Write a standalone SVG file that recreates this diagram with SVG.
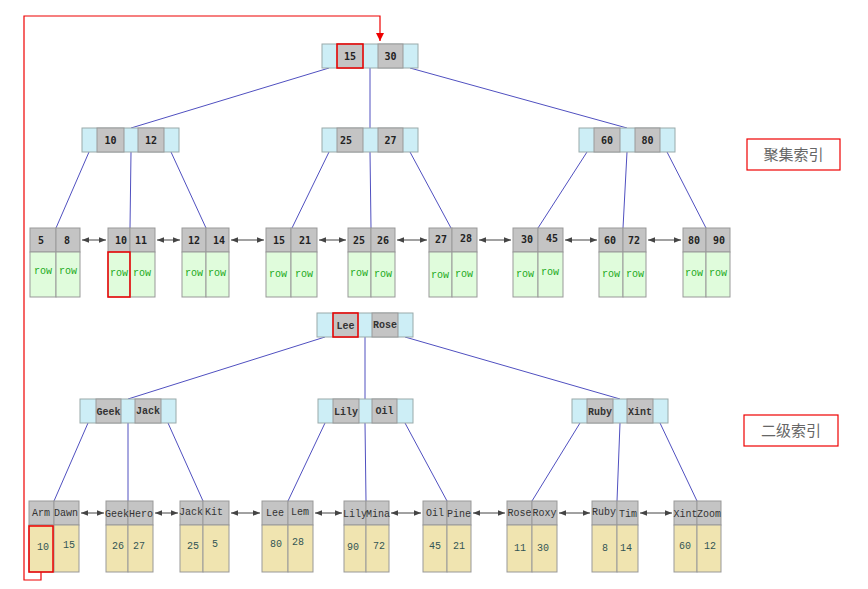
<svg xmlns="http://www.w3.org/2000/svg" width="868" height="589" viewBox="0 0 868 589">
<defs>
<marker id="ah" viewBox="0 0 10 10" refX="10" refY="5" markerWidth="7" markerHeight="7" orient="auto-start-reverse" markerUnits="userSpaceOnUse"><path d="M0,1 L10,5 L0,9 z" fill="#444"/></marker>
<marker id="rh" viewBox="0 0 10 10" refX="10" refY="5" markerWidth="8" markerHeight="8" orient="auto" markerUnits="userSpaceOnUse"><path d="M0,0 L10,5 L0,10 z" fill="#e00"/></marker>
<style>
.b{fill:#cdeef6;stroke:#9aa;stroke-width:1}
.g{fill:#c4c4c4;stroke:#999;stroke-width:1}
.rw{fill:#e0fcdc;stroke:#999;stroke-width:1}
.vl{fill:#f0e4b0;stroke:#999;stroke-width:1}
.k{font-family:"DejaVu Sans Mono","Liberation Mono",monospace;font-weight:bold;font-size:10px;fill:#222;text-anchor:middle}
.n{font-family:"Liberation Mono","Courier New",monospace;font-size:10px;fill:#333;text-anchor:middle}
.r{font-family:"Liberation Mono","Courier New",monospace;font-size:10px;fill:#2a2;text-anchor:middle}
.v{font-family:"Liberation Mono","Courier New",monospace;font-size:10px;fill:#355;text-anchor:middle}
.e{stroke:#5050c0;stroke-width:1;fill:none}
.a{stroke:#444;stroke-width:1;fill:none;marker-start:url(#ah);marker-end:url(#ah)}
.hl{fill:none;stroke:#e00;stroke-width:1.5}
.lb{font-family:"Noto Sans CJK SC","Liberation Serif",serif;font-size:15px;fill:#666;text-anchor:middle}
</style>
</defs>
<rect width="868" height="589" fill="#fff"/>

<g id="connectors">
<!-- clustered tree -->
<line class="e" x1="329" y1="68" x2="131" y2="128"/>
<line class="e" x1="370" y1="68" x2="370" y2="128"/>
<line class="e" x1="410" y1="68" x2="627" y2="128"/>
<line class="e" x1="89" y1="152" x2="56" y2="228"/>
<line class="e" x1="131" y1="152" x2="130" y2="228"/>
<line class="e" x1="171" y1="152" x2="206" y2="228"/>
<line class="e" x1="329" y1="152" x2="292" y2="228"/>
<line class="e" x1="370" y1="152" x2="371" y2="228"/>
<line class="e" x1="410" y1="152" x2="451" y2="228"/>
<line class="e" x1="587" y1="152" x2="538" y2="228"/>
<line class="e" x1="627" y1="152" x2="623" y2="228"/>
<line class="e" x1="667" y1="152" x2="706" y2="228"/>
<line class="a" x1="82" y1="240" x2="106" y2="240"/>
<line class="a" x1="157" y1="240" x2="180" y2="240"/>
<line class="a" x1="231" y1="240" x2="264" y2="240"/>
<line class="a" x1="319" y1="240" x2="346" y2="240"/>
<line class="a" x1="397" y1="240" x2="427" y2="240"/>
<line class="a" x1="479" y1="240" x2="511" y2="240"/>
<line class="a" x1="565" y1="240" x2="597" y2="240"/>
<line class="a" x1="648" y1="240" x2="681" y2="240"/>
<!-- secondary tree -->
<line class="e" x1="325" y1="337" x2="128" y2="399"/>
<line class="e" x1="365" y1="337" x2="365" y2="399"/>
<line class="e" x1="405" y1="337" x2="620" y2="399"/>
<line class="e" x1="88" y1="423" x2="54" y2="501"/>
<line class="e" x1="128" y1="423" x2="128" y2="501"/>
<line class="e" x1="168" y1="423" x2="203" y2="501"/>
<line class="e" x1="325" y1="423" x2="288" y2="501"/>
<line class="e" x1="365" y1="423" x2="366" y2="501"/>
<line class="e" x1="405" y1="423" x2="447" y2="501"/>
<line class="e" x1="580" y1="423" x2="532" y2="501"/>
<line class="e" x1="620" y1="423" x2="617" y2="501"/>
<line class="e" x1="660" y1="423" x2="697" y2="501"/>
<line class="a" x1="81" y1="513" x2="104" y2="513"/>
<line class="a" x1="155" y1="513" x2="178" y2="513"/>
<line class="a" x1="231" y1="513" x2="260" y2="513"/>
<line class="a" x1="315" y1="513" x2="342" y2="513"/>
<line class="a" x1="391" y1="513" x2="421" y2="513"/>
<line class="a" x1="473" y1="513" x2="505" y2="513"/>
<line class="a" x1="559" y1="513" x2="590" y2="513"/>
<line class="a" x1="640" y1="513" x2="672" y2="513"/>
<!-- red lookup path -->
<polyline points="41,572 41,580 24,580 24,16 380,16 380,41" fill="none" stroke="#e00" stroke-width="1.2" marker-end="url(#rh)"/>
</g>

<!-- clustered index internal nodes -->
<g id="n-15-30">
<rect class="b" x="322" y="44" width="96" height="24"/>
<rect class="g" x="337" y="44" width="26" height="24"/><rect class="g" x="378" y="44" width="25" height="24"/>
<rect class="hl" x="337" y="44" width="26" height="24"/>
<text class="k" x="350" y="60">15</text><text class="k" x="390.5" y="60">30</text>
</g>
<g id="n-10-12">
<rect class="b" x="82" y="128" width="97" height="24"/>
<rect class="g" x="97" y="128" width="27" height="24"/><rect class="g" x="138" y="128" width="26" height="24"/>
<text class="k" x="110.5" y="144">10</text><text class="k" x="151" y="144">12</text>
</g>
<g id="n-25-27">
<rect class="b" x="322" y="128" width="96" height="24"/>
<rect class="g" x="337" y="128" width="26" height="24"/><rect class="g" x="378" y="128" width="25" height="24"/>
<text class="k" x="346" y="144">25</text><text class="k" x="390.5" y="144">27</text>
</g>
<g id="n-60-80">
<rect class="b" x="579" y="128" width="96" height="24"/>
<rect class="g" x="594" y="128" width="26" height="24"/><rect class="g" x="635" y="128" width="25" height="24"/>
<text class="k" x="607" y="144">60</text><text class="k" x="647.5" y="144">80</text>
</g>

<!-- clustered leaves -->
<g id="leaf-5-8"><rect class="g" x="30" y="228" width="26" height="24"/><rect class="g" x="56" y="228" width="24" height="24"/><rect class="rw" x="30" y="252" width="26" height="45"/><rect class="rw" x="56" y="252" width="24" height="45"/><text class="k" x="41" y="244">5</text><text class="k" x="67" y="244">8</text><text class="r" x="43" y="274">row</text><text class="r" x="68" y="274">row</text></g>
<g id="leaf-10-11"><rect class="g" x="108" y="228" width="22" height="24"/><rect class="g" x="130" y="228" width="25" height="24"/><rect class="rw" x="108" y="252" width="22" height="45"/><rect class="rw" x="130" y="252" width="25" height="45"/><rect class="hl" x="108" y="252" width="22" height="45"/><text class="k" x="121" y="244">10</text><text class="k" x="141" y="244">11</text><text class="r" x="119" y="276">row</text><text class="r" x="142" y="276">row</text></g>
<g id="leaf-12-14"><rect class="g" x="182" y="228" width="24" height="24"/><rect class="g" x="206" y="228" width="23" height="24"/><rect class="rw" x="182" y="252" width="24" height="45"/><rect class="rw" x="206" y="252" width="23" height="45"/><text class="k" x="194" y="244">12</text><text class="k" x="219" y="244">14</text><text class="r" x="194" y="276">row</text><text class="r" x="217" y="276">row</text></g>
<g id="leaf-15-21"><rect class="g" x="266" y="228" width="25" height="24"/><rect class="g" x="291" y="228" width="26" height="24"/><rect class="rw" x="266" y="252" width="25" height="45"/><rect class="rw" x="291" y="252" width="26" height="45"/><text class="k" x="279" y="244">15</text><text class="k" x="305" y="244">21</text><text class="r" x="278" y="277">row</text><text class="r" x="304" y="277">row</text></g>
<g id="leaf-25-26"><rect class="g" x="348" y="228" width="23" height="24"/><rect class="g" x="371" y="228" width="24" height="24"/><rect class="rw" x="348" y="252" width="23" height="45"/><rect class="rw" x="371" y="252" width="24" height="45"/><text class="k" x="359" y="244">25</text><text class="k" x="383" y="244">26</text><text class="r" x="359" y="276">row</text><text class="r" x="383" y="277">row</text></g>
<g id="leaf-27-28"><rect class="g" x="429" y="228" width="23" height="24"/><rect class="g" x="452" y="228" width="25" height="24"/><rect class="rw" x="429" y="252" width="23" height="45"/><rect class="rw" x="452" y="252" width="25" height="45"/><text class="k" x="441" y="243">27</text><text class="k" x="466" y="242">28</text><text class="r" x="440" y="278">row</text><text class="r" x="464" y="277">row</text></g>
<g id="leaf-30-45"><rect class="g" x="513" y="228" width="25" height="24"/><rect class="g" x="538" y="228" width="25" height="24"/><rect class="rw" x="513" y="252" width="25" height="45"/><rect class="rw" x="538" y="252" width="25" height="45"/><text class="k" x="527" y="243">30</text><text class="k" x="552" y="242">45</text><text class="r" x="525" y="277">row</text><text class="r" x="550" y="275">row</text></g>
<g id="leaf-60-72"><rect class="g" x="599" y="228" width="24" height="24"/><rect class="g" x="623" y="228" width="23" height="24"/><rect class="rw" x="599" y="252" width="24" height="45"/><rect class="rw" x="623" y="252" width="23" height="45"/><text class="k" x="610" y="244">60</text><text class="k" x="634" y="244">72</text><text class="r" x="611" y="277">row</text><text class="r" x="635" y="277">row</text></g>
<g id="leaf-80-90"><rect class="g" x="683" y="228" width="23" height="24"/><rect class="g" x="706" y="228" width="24" height="24"/><rect class="rw" x="683" y="252" width="23" height="45"/><rect class="rw" x="706" y="252" width="24" height="45"/><text class="k" x="694" y="244">80</text><text class="k" x="719" y="244">90</text><text class="r" x="694" y="276">row</text><text class="r" x="718" y="276">row</text></g>

<!-- secondary internal nodes -->
<g id="n-Lee-Rose">
<rect class="b" x="317" y="313" width="96" height="24"/>
<rect class="g" x="333" y="313" width="25" height="24"/><rect class="g" x="372" y="313" width="26" height="24"/>
<rect class="hl" x="333" y="313" width="25" height="24"/>
<text class="n" x="345.5" y="329" font-weight="bold">Lee</text><text class="n" x="385" y="328" font-weight="bold">Rose</text>
</g>
<g id="n-Geek-Jack">
<rect class="b" x="80" y="399" width="96" height="24"/>
<rect class="g" x="96" y="399" width="25" height="24"/><rect class="g" x="135" y="399" width="26" height="24"/>
<text class="n" x="108.5" y="415" font-weight="bold">Geek</text><text class="n" x="148" y="414" font-weight="bold">Jack</text>
</g>
<g id="n-Lily-Oil">
<rect class="b" x="318" y="399" width="95" height="24"/>
<rect class="g" x="333" y="399" width="26" height="24"/><rect class="g" x="372" y="399" width="25" height="24"/>
<text class="n" x="346" y="415" font-weight="bold">Lily</text><text class="n" x="384.5" y="414" font-weight="bold">Oil</text>
</g>
<g id="n-Ruby-Xint">
<rect class="b" x="572" y="399" width="96" height="24"/>
<rect class="g" x="587" y="399" width="26" height="24"/><rect class="g" x="627" y="399" width="26" height="24"/>
<text class="n" x="600" y="415" font-weight="bold">Ruby</text><text class="n" x="640" y="415" font-weight="bold">Xint</text>
</g>

<!-- secondary leaves -->
<g id="leaf-Arm-Dawn"><rect class="g" x="29" y="501" width="25" height="24"/><rect class="g" x="54" y="501" width="25" height="24"/><rect class="vl" x="29" y="525" width="25" height="47"/><rect class="vl" x="54" y="525" width="25" height="47"/><rect class="hl" x="29" y="526" width="24" height="46"/><text class="n" x="41" y="516">Arm</text><text class="n" x="66" y="516">Dawn</text><text class="v" x="43" y="550">10</text><text class="v" x="69" y="548">15</text></g>
<g id="leaf-Geek-Hero"><rect class="g" x="106" y="501" width="22" height="24"/><rect class="g" x="128" y="501" width="25" height="24"/><rect class="vl" x="106" y="525" width="22" height="47"/><rect class="vl" x="128" y="525" width="25" height="47"/><text class="n" x="117" y="517">Geek</text><text class="n" x="141" y="517">Hero</text><text class="v" x="118" y="549">26</text><text class="v" x="139" y="549">27</text></g>
<g id="leaf-Jack-Kit"><rect class="g" x="180" y="501" width="23" height="24"/><rect class="g" x="203" y="501" width="26" height="24"/><rect class="vl" x="180" y="525" width="23" height="47"/><rect class="vl" x="203" y="525" width="26" height="47"/><text class="n" x="191" y="515">Jack</text><text class="n" x="214" y="515">Kit</text><text class="v" x="193" y="549">25</text><text class="v" x="215" y="547">5</text></g>
<g id="leaf-Lee-Lem"><rect class="g" x="262" y="501" width="26" height="24"/><rect class="g" x="288" y="501" width="25" height="24"/><rect class="vl" x="262" y="525" width="26" height="47"/><rect class="vl" x="288" y="525" width="25" height="47"/><text class="n" x="275" y="516">Lee</text><text class="n" x="300" y="515">Lem</text><text class="v" x="276" y="547">80</text><text class="v" x="298" y="545">28</text></g>
<g id="leaf-Lily-Mina"><rect class="g" x="344" y="501" width="22" height="24"/><rect class="g" x="366" y="501" width="23" height="24"/><rect class="vl" x="344" y="525" width="22" height="47"/><rect class="vl" x="366" y="525" width="23" height="47"/><text class="n" x="355" y="517">Lily</text><text class="n" x="378" y="517">Mina</text><text class="v" x="353" y="550">90</text><text class="v" x="379" y="549">72</text></g>
<g id="leaf-Oil-Pine"><rect class="g" x="423" y="501" width="24" height="24"/><rect class="g" x="447" y="501" width="24" height="24"/><rect class="vl" x="423" y="525" width="24" height="47"/><rect class="vl" x="447" y="525" width="24" height="47"/><text class="n" x="435" y="516">Oil</text><text class="n" x="459" y="517">Pine</text><text class="v" x="435" y="549">45</text><text class="v" x="459" y="549">21</text></g>
<g id="leaf-Rose-Roxy"><rect class="g" x="507" y="501" width="25" height="24"/><rect class="g" x="532" y="501" width="25" height="24"/><rect class="vl" x="507" y="525" width="25" height="47"/><rect class="vl" x="532" y="525" width="25" height="47"/><text class="n" x="519.5" y="516">Rose</text><text class="n" x="544.5" y="516">Roxy</text><text class="v" x="520" y="551">11</text><text class="v" x="543" y="551">30</text></g>
<g id="leaf-Ruby-Tim"><rect class="g" x="592" y="501" width="25" height="24"/><rect class="g" x="617" y="501" width="21" height="24"/><rect class="vl" x="592" y="525" width="25" height="47"/><rect class="vl" x="617" y="525" width="21" height="47"/><text class="n" x="604" y="515">Ruby</text><text class="n" x="628" y="517">Tim</text><text class="v" x="605" y="551">8</text><text class="v" x="626" y="551">14</text></g>
<g id="leaf-Xint-Zoom"><rect class="g" x="674" y="501" width="23" height="24"/><rect class="g" x="697" y="501" width="24" height="24"/><rect class="vl" x="674" y="525" width="23" height="47"/><rect class="vl" x="697" y="525" width="24" height="47"/><text class="n" x="685.5" y="517">Xint</text><text class="n" x="709" y="517">Zoom</text><text class="v" x="685" y="549">60</text><text class="v" x="710" y="549">12</text></g>

<g id="label-clustered"><rect x="747" y="139" width="93" height="31" fill="#fff" stroke="#e00" stroke-width="1.2"/><text class="lb" x="793.5" y="160">聚集索引</text></g>
<g id="label-secondary"><rect x="744" y="415" width="94" height="31" fill="#fff" stroke="#e00" stroke-width="1.2"/><text class="lb" x="791" y="436">二级索引</text></g>
</svg>
